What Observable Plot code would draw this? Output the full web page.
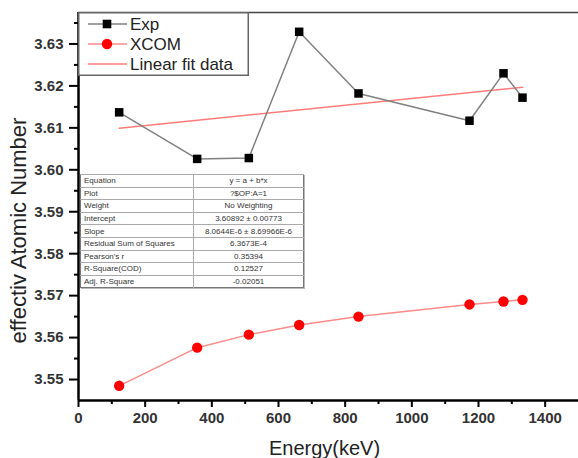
<!DOCTYPE html>
<html>
<head>
<meta charset="utf-8">
<script src="https://cdn.jsdelivr.net/npm/d3@7"></script>
<script src="https://cdn.jsdelivr.net/npm/@observablehq/plot@0.6"></script>
<style>
  html, body { margin: 0; padding: 0; background: #fff; }
  #wrap { position: relative; width: 578px; height: 458px; overflow: hidden; font-family: Arial, "Liberation Sans", sans-serif; }
  #legend { position: absolute; left: 78px; top: 12px; }
  #stats { position: absolute; left: 80px; top: 174px; width: 224px; border-collapse: collapse; background: #fff;
           font-family: Arial, "Liberation Sans", sans-serif; font-size: 8px; color: #333; border: 1px solid #777;
           box-shadow: 1px 1px 0 #bbb; }
  #stats td { border-top: 1px solid #aaa; height: 11.6px; padding: 0 3px; line-height: 11px; white-space: nowrap; }
  #stats td:first-child { width: 106px; border-right: 1px solid #aaa; }
  #stats td:last-child { text-align: center; }
</style>
</head>
<body>
<div id="wrap"></div>
<script>
// ---- data ----
const energy = [122, 356, 511, 662, 840, 1173, 1275, 1332];
const expZ   = [3.6137, 3.6026, 3.6028, 3.6329, 3.6182, 3.6117, 3.6230, 3.6172];
const xcomZ  = [3.5485, 3.5576, 3.5607, 3.5630, 3.5650, 3.5679, 3.5686, 3.5690];
const fitEnergy = [122, 1332];
const fitZ      = [3.6099, 3.6197];

const xDomain = [0, 1500];
const yDomain = [3.545, 3.6375];
const xMajor = [0, 200, 400, 600, 800, 1000, 1200, 1400];
const xMinor = [100, 300, 500, 700, 900, 1100, 1300];
const yMajor = [3.55, 3.56, 3.57, 3.58, 3.59, 3.60, 3.61, 3.62, 3.63];
const yMinor = [3.555, 3.565, 3.575, 3.585, 3.595, 3.605, 3.615, 3.625, 3.635];

const legendLabels = ["Exp", "XCOM", "Linear fit data"];
const statNames = ["Equation", "Plot", "Weight", "Intercept", "Slope", "Residual Sum of Squares", "Pearson's r", "R-Square(COD)", "Adj. R-Square"];
const statValues = ["y = a + b*x", "?$OP:A=1", "No Weighting", "3.60892 \u00b1 0.00773", "8.0644E-6 \u00b1 8.69966E-6", "6.3673E-4", "0.35394", "0.12527", "-0.02051"];

const xTitle = "Energy(keV)";
const yTitle = "effectiv Atomic Number";

// ---- tables for marks ----
const expData = energy.map((e, i) => ({e, z: expZ[i]}));
const xcomData = energy.map((e, i) => ({e, z: xcomZ[i]}));
const fitData = fitEnergy.map((e, i) => ({e, z: fitZ[i]}));

const chart = Plot.plot({
  width: 578,
  height: 458,
  marginLeft: 78,
  marginRight: 0,
  marginTop: 12,
  marginBottom: 58,
  style: {fontFamily: "Arial, 'Liberation Sans', sans-serif", background: "#fff", color: "#000"},
  x: {domain: xDomain, label: null},
  y: {domain: yDomain, label: null},
  marks: [
    Plot.axisX({ticks: xMinor, tickSize: 4, tickFormat: () => "", strokeWidth: 2, label: null}),
    Plot.axisX({ticks: xMajor, tickSize: 7, tickPadding: 5, tickFormat: d3.format("d"), fontSize: 15, fontWeight: "bold", fill: "#333", stroke: "#000", strokeWidth: 2, label: null}),
    Plot.axisY({ticks: yMinor, tickSize: 4, tickFormat: () => "", strokeWidth: 2, label: null}),
    Plot.axisY({ticks: yMajor, tickSize: 9, tickPadding: 6, tickFormat: d3.format(".2f"), fontSize: 15, fontWeight: "bold", fill: "#333", stroke: "#000", strokeWidth: 2, label: null}),
    Plot.ruleY([yDomain[1]], {stroke: "#444", strokeWidth: 1.5}),
    Plot.line(fitData, {x: "e", y: "z", stroke: "#ff7b7b", strokeWidth: 1.5}),
    Plot.line(expData, {x: "e", y: "z", stroke: "#808080", strokeWidth: 1.5}),
    Plot.dot(expData, {x: "e", y: "z", symbol: "square", r: 4.8, fill: "#000"}),
    Plot.line(xcomData, {x: "e", y: "z", stroke: "#ff8a8a", strokeWidth: 1.5}),
    Plot.dot(xcomData, {x: "e", y: "z", symbol: "circle", r: 5.2, fill: "#ff0000"}),
    Plot.ruleX([xDomain[0]], {stroke: "#000", strokeWidth: 2.5}),
    Plot.ruleY([yDomain[0]], {stroke: "#000", strokeWidth: 2.5}),
    Plot.text([yTitle], {text: d => d, frameAnchor: "left", textAnchor: "middle", lineAnchor: "middle", rotate: -90, dx: -60, dy: 24, fontSize: 22, fill: "#222"}),
    Plot.text([xTitle], {text: d => d, frameAnchor: "bottom", textAnchor: "middle", dx: -4, dy: 54, fontSize: 20, fill: "#222"})
  ]
});

const wrap = document.getElementById("wrap");
wrap.appendChild(chart);

// ---- legend (overlay) ----
const ns = "http://www.w3.org/2000/svg";
const leg = document.createElementNS(ns, "svg");
leg.setAttribute("id", "legend");
leg.setAttribute("width", 171);
leg.setAttribute("height", 64);
const legStyles = [
  {stroke: "#808080", sym: "square", fill: "#000"},
  {stroke: "#ff8a8a", sym: "circle", fill: "#ff0000"},
  {stroke: "#ff7b7b", sym: null}
];
let html = `<rect x="0.75" y="0.75" width="169.5" height="62.5" fill="#fff" stroke="#666" stroke-width="1.5"/>`;
legendLabels.forEach((lab, i) => {
  const cy = 12 + i * 20;
  const s = legStyles[i];
  html += `<line x1="10" x2="49" y1="${cy}" y2="${cy}" stroke="${s.stroke}" stroke-width="1.5"/>`;
  if (s.sym === "square") html += `<rect x="${29 - 4.3}" y="${cy - 4.3}" width="8.6" height="8.6" fill="${s.fill}"/>`;
  if (s.sym === "circle") html += `<circle cx="29" cy="${cy}" r="5.2" fill="${s.fill}"/>`;
  html += `<text x="52" y="${cy + 6}" font-size="17" fill="#222" font-family="Arial, 'Liberation Sans', sans-serif">${lab}</text>`;
});
leg.innerHTML = html;
wrap.appendChild(leg);

// ---- stats table (overlay) ----
const table = document.createElement("table");
table.id = "stats";
statNames.forEach((n, i) => {
  const tr = document.createElement("tr");
  const a = document.createElement("td"); a.textContent = n;
  const b = document.createElement("td"); b.textContent = statValues[i];
  tr.appendChild(a); tr.appendChild(b);
  table.appendChild(tr);
});
wrap.appendChild(table);
</script>
</body>
</html>
